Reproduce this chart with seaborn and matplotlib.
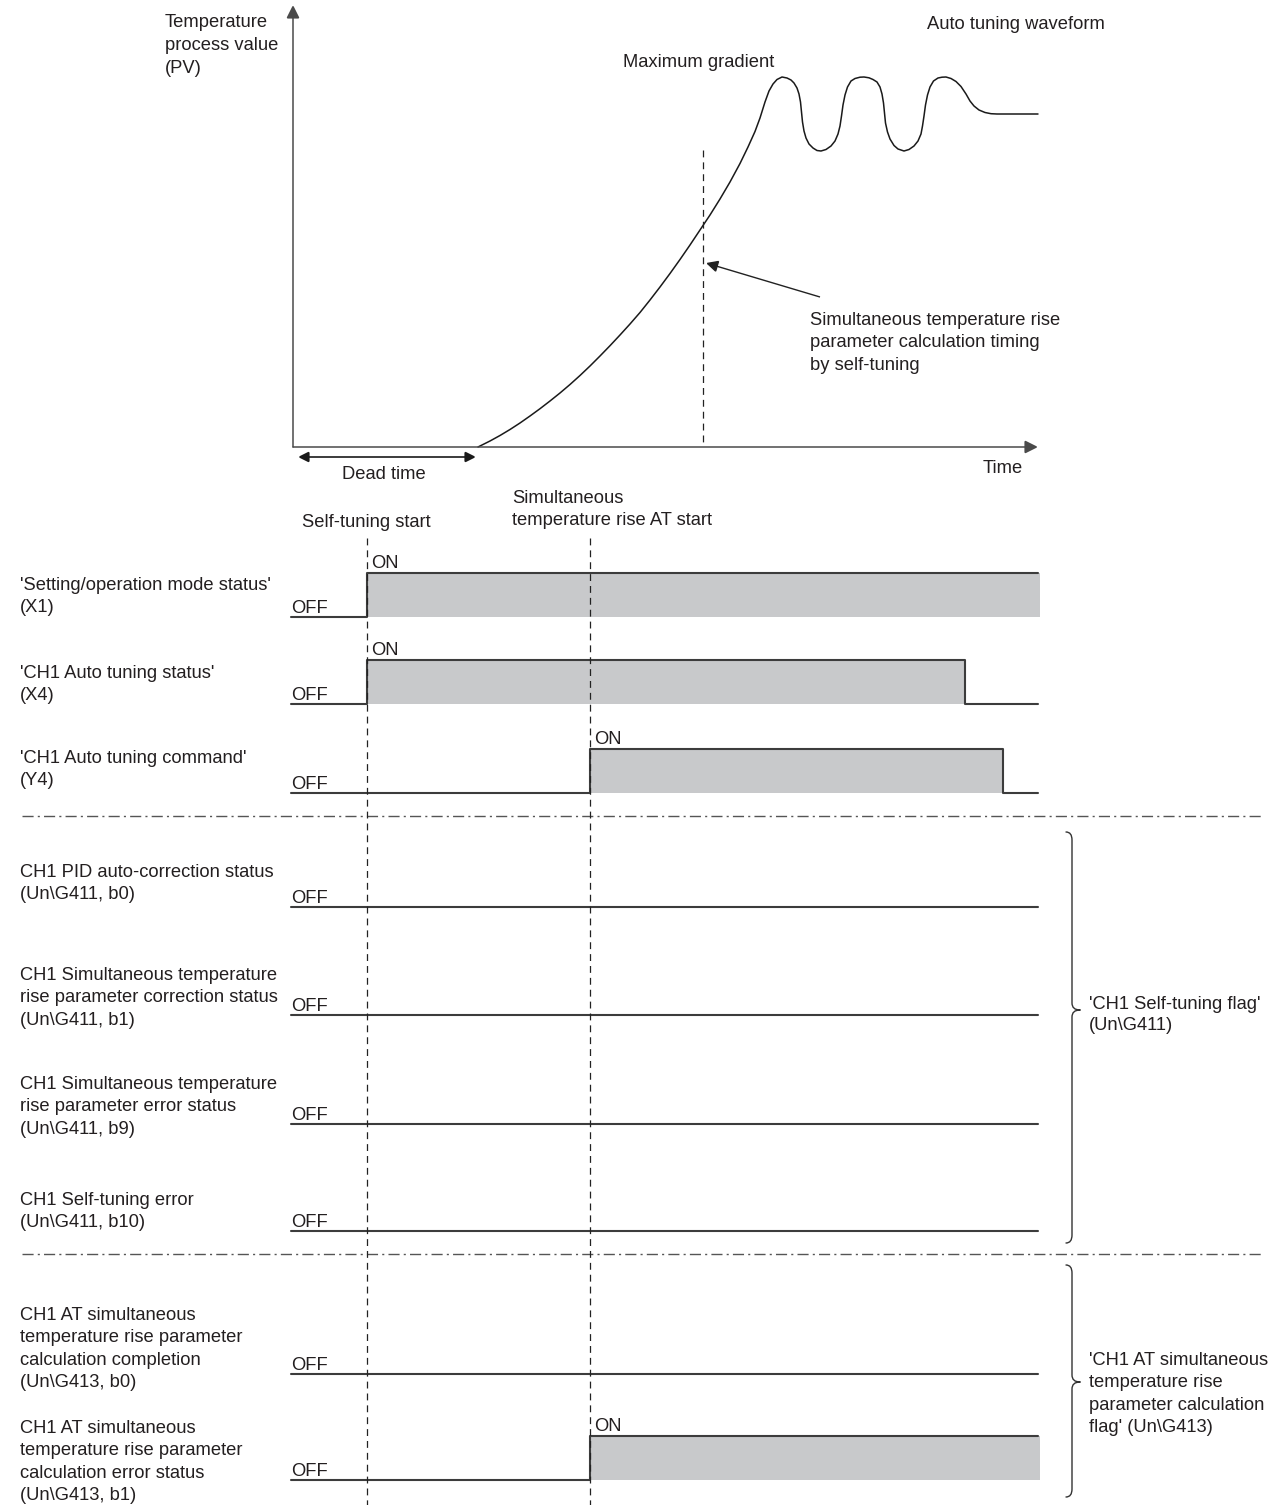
"""
Self-tuning / simultaneous temperature rise AT timing chart.
Everything is drawn on one full-figure axes whose units are the
picture's pixels (x to the right, y downwards).
"""
import numpy as np
import pandas as pd
import matplotlib
matplotlib.use("Agg")
import matplotlib.pyplot as plt
from matplotlib.path import Path
from matplotlib.patches import PathPatch
import seaborn as sns

# ── Data ─────────────────────────────────────────────────────────────────────
# Temperature process value (PV) waveform
PV_TIME = [478, 490, 500, 510, 520, 530, 540, 550, 560, 570, 580, 590, 600,
           610, 620, 630, 640, 650, 660, 670, 680, 690, 700, 710, 720, 730,
           740, 748, 755, 760, 765, 769, 773, 777, 782,
           787, 791, 794, 797, 799, 800.5, 801.5, 802.5, 804, 806, 809, 813,
           817, 821, 826, 831, 835, 838, 840, 841.5, 843, 845, 847.5, 851,
           855, 860, 864, 869, 873, 877, 880, 882, 883.5, 884.5, 885.5,
           887.5, 890, 894, 898, 904, 909, 914, 918, 921, 922.5, 924, 925.5,
           927.5, 930, 933.5, 938, 942, 946, 951, 956, 961, 966, 970, 974,
           979, 985, 991, 997, 1038]
PV_VALUE = [447, 441, 435.5, 429.5, 423, 416, 408.7, 401, 393, 384.5, 375.5,
            366, 356, 345.7, 335, 324, 312.5, 300, 287, 273.5, 259.5, 245,
            230, 215, 199, 182, 163.5, 147, 131.5, 118, 102, 91, 84, 79.5,
            77, 78, 80, 83, 88, 94, 102, 112, 122, 131, 138, 144, 148,
            150.5, 151, 149.5, 146, 141, 134, 126, 116, 105, 95, 87, 81,
            78.5, 77.2, 77, 77.8, 79.5, 82, 87, 94, 103, 113, 123,
            132, 139, 145.5, 149, 151, 149.5, 146, 141, 134, 126, 116, 105,
            95, 87, 81, 78, 77.2, 77, 78.5, 81.5, 86.5, 94, 101, 106,
            110, 112.5, 113.7, 114, 114]

# event times
SELF_TUNING_T = 367
AT_START_T = 590
CALC_T = 703
DEAD_TIME = [298, 476]

# timing chart signals
SIGNAL_LABELS = [
    ["'Setting/operation mode status'", "(X1)"],
    ["'CH1 Auto tuning status'", "(X4)"],
    ["'CH1 Auto tuning command'", "(Y4)"],
    ["CH1 PID auto-correction status", "(Un\\G411, b0)"],
    ["CH1 Simultaneous temperature", "rise parameter correction status",
     "(Un\\G411, b1)"],
    ["CH1 Simultaneous temperature", "rise parameter error status",
     "(Un\\G411, b9)"],
    ["CH1 Self-tuning error", "(Un\\G411, b10)"],
    ["CH1 AT simultaneous", "temperature rise parameter",
     "calculation completion", "(Un\\G413, b0)"],
    ["CH1 AT simultaneous", "temperature rise parameter",
     "calculation error status", "(Un\\G413, b1)"],
]
SIGNAL_ON = [367, 367, 590, None, None, None, None, None, 590]
SIGNAL_OFF = [None, 965, 1003, None, None, None, None, None, None]
T_START, T_END = 291, 1038

# ── Layout ───────────────────────────────────────────────────────────────────
ROW_LOW = [617, 704, 793, 907, 1015, 1124, 1231, 1374, 1480]
ROW_HIGH = 44
LABEL_FIRST = [590, 678, 763, 877, 980, 1089, 1205, 1320, 1433]
PITCH = 22.3
FS = 13.2
TXT = "#231f20"
LINE = "#3c3c3c"
FILL = "#c8c9cb"

sns.set_style("white")
plt.rcParams["font.family"] = ["Liberation Sans", "DejaVu Sans"]

fig = plt.figure(figsize=(12.86, 15.05), dpi=100)
ax = fig.add_axes([0, 0, 1, 1])
ax.set_xlim(0, 1286)
ax.set_ylim(1505, 0)
ax.axis("off")


def put(x, y0, lines, pitch=PITCH):
    for i, s in enumerate(lines):
        ax.text(x, y0 + i * pitch, s, fontsize=FS, color=TXT,
                ha="left", va="baseline")


def arrow(tip, tail, ms=20, style="-|>", lw=1.1, color="#4a4a4a"):
    ax.annotate("", xy=tip, xytext=tail,
                arrowprops=dict(arrowstyle=style, mutation_scale=ms, lw=lw,
                                color=color, shrinkA=0, shrinkB=0,
                                joinstyle="miter", capstyle="butt"))


def brace(x, top, bottom, tip):
    verts = [(x - 6, top), (x, top), (x, top + 8), (x, tip - 7),
             (x, tip), (x + 8, tip),
             (x + 8, tip), (x, tip), (x, tip + 7), (x, bottom - 8),
             (x, bottom), (x - 6, bottom)]
    codes = [Path.MOVETO, Path.CURVE3, Path.CURVE3, Path.LINETO,
             Path.CURVE3, Path.CURVE3,
             Path.MOVETO, Path.CURVE3, Path.CURVE3, Path.LINETO,
             Path.CURVE3, Path.CURVE3]
    ax.add_patch(PathPatch(Path(verts, codes), fill=False, lw=1.0,
                           edgecolor="#333333", capstyle="round"))


# ── PV chart ─────────────────────────────────────────────────────────────────
arrow((293, 5), (293, 447.5))
arrow((1038, 447), (292.5, 447))
sns.lineplot(x=PV_TIME, y=PV_VALUE, sort=False, estimator=None,
             color="#1a1a1a", lw=1.1, ax=ax)
ax.plot([CALC_T, CALC_T], [150, 446], color="#222222", lw=0.9,
        dashes=[5.5, 4])
arrow((706, 263), (820, 297), ms=18, lw=1.0, color="#222222")
arrow((DEAD_TIME[1], 457), (DEAD_TIME[0], 457), ms=16, style="<|-|>",
      lw=1.2, color="#1a1a1a")

put(165, 27, ["Temperature", "process value", "(PV)"], pitch=23)
put(927, 29, ["Auto tuning waveform"])
put(623, 67, ["Maximum gradient"])
put(810, 325, ["Simultaneous temperature rise",
               "parameter calculation timing", "by self-tuning"])
put(342, 479, ["Dead time"])
put(983, 473, ["Time"])
put(302, 527, ["Self-tuning start"])
put(512, 503, ["Simultaneous", "temperature rise AT start"])

# ── Timing chart ─────────────────────────────────────────────────────────────
rows = []
for i, (on, off) in enumerate(zip(SIGNAL_ON, SIGNAL_OFF)):
    low, high = ROW_LOW[i], ROW_LOW[i] - ROW_HIGH
    if on is None:
        ts, ys = [T_START, T_END], [low, low]
    elif off is None:
        # stays ON to the end of the chart
        ts = [T_START, on, on, T_END]
        ys = [low, low, high, high]
        ax.fill_between([on, T_END + 1.5], high, low, color=FILL, lw=0,
                        zorder=1)
    else:
        ts = [T_START, on, on, off, off, T_END]
        ys = [low, low, high, high, low, low]
        ax.fill_between([on, off], high, low, color=FILL, lw=0, zorder=1)
    if on is not None:
        ax.text(on + 4, high - 5, "ON", fontsize=FS, color=TXT,
                ha="left", va="baseline")
    rows.append(pd.DataFrame({"t": ts, "y": ys, "signal": i}))
    ax.text(T_START, low - 4, "OFF", fontsize=FS, color=TXT,
            ha="left", va="baseline")
    put(20, LABEL_FIRST[i], SIGNAL_LABELS[i])

sig = pd.concat(rows, ignore_index=True)
sns.lineplot(data=sig, x="t", y="y", units="signal", estimator=None,
             sort=False, color=LINE, lw=1.5, ax=ax, zorder=3)

for t in [SELF_TUNING_T, AT_START_T]:
    ax.plot([t, t], [538, 1505], color="#222222", lw=0.9, dashes=[5.5, 4],
            zorder=4)

ax.hlines([816, 1254], 22, 1262, colors="#555555", lw=1.0,
          linestyles=(0, (8, 3, 1.5, 3)))

brace(1072, 832, 1243, 1010)
brace(1072, 1265, 1497, 1382)
put(1089, 1009, ["'CH1 Self-tuning flag'", "(Un\\G411)"], pitch=21)
put(1089, 1365, ["'CH1 AT simultaneous", "temperature rise",
                 "parameter calculation", "flag' (Un\\G413)"])

fig.savefig("out.png", dpi=100, facecolor="white")
